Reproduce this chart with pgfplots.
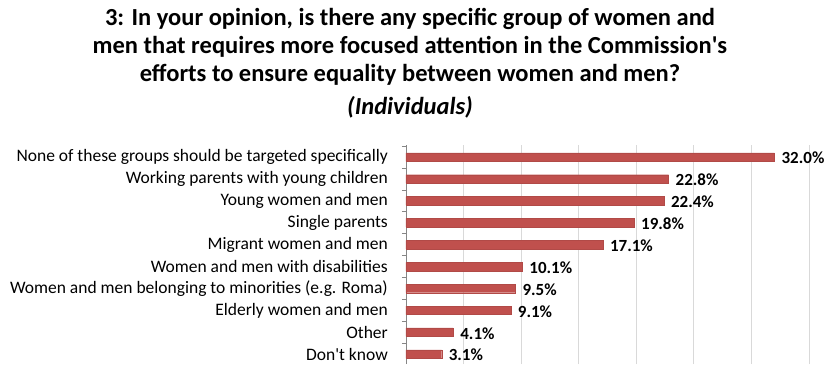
\documentclass[border=0pt]{standalone}
\usepackage{pgfplots}
\pgfplotsset{compat=1.18}
\usepackage{fontspec}
\setmainfont{Carlito}
\definecolor{barred}{RGB}{192,80,77}
\definecolor{gridgray}{RGB}{217,217,217}
\definecolor{axgray}{RGB}{134,134,134}
\begin{document}
\begin{tikzpicture}
\useasboundingbox (-406pt,0pt) rectangle (421pt,364pt);
\begin{axis}[
  at={(0pt,0pt)}, anchor=south west,
  scale only axis, width=403pt, height=219pt,
  xbar, bar width=8.5pt,
  xmin=0, xmax=35,
  ymin=-0.45, ymax=9.55,
  /pgf/number format/assume math mode=true,
  axis x line*=bottom, axis y line*=left,
  x axis line style={draw=none},
  y axis line style={draw=axgray, line width=0.8pt},
  xtick={5,10,15,20,25,30,35}, xticklabels={},
  xmajorgrids, major grid style={gridgray, line width=0.8pt},
  x tick style={draw=none},
  ytick={0,...,9},
  yticklabels={Don\textquotesingle t know, Other, Elderly women and men, Women and men belonging to minorities (e.g. Roma), Women and men with disabilities, Migrant women and men, Single parents, Young women and men, Working parents with young children, None of these groups should be targeted specifically},
  y tick style={draw=none}, major tick length=0pt,
  minor ytick={-0.5,0.5,...,9.5},
  minor tick length=4pt,
  minor y tick style={draw=axgray, line width=0.6pt},
  tick align=outside,
  yticklabel style={font=\fontsize{17.5}{20}\selectfont, inner sep=0pt, xshift=-18pt, anchor=east},
  point meta=x,
  nodes near coords={\pgfmathprintnumber[fixed,precision=1,fixed zerofill]{\pgfplotspointmeta}\%},
  nodes near coords style={font=\fontsize{17}{20}\selectfont\bfseries, anchor=west, inner sep=0pt, xshift=7pt, yshift=-1pt},
  clip=false,
]
\addplot[fill=barred, draw=barred!92!black, line width=0.3pt] coordinates {
(3.1,0) (4.1,1) (9.1,2) (9.5,3) (10.1,4) (17.1,5) (19.8,6) (22.4,7) (22.8,8) (32.0,9)
};
\end{axis}
\begin{scope}[font=\fontsize{24.5}{28}\selectfont\bfseries]
\node[anchor=base] at (4pt,338pt) {3: In your opinion, is there any specific group of women and};
\node[anchor=base] at (4pt,310pt) {men that requires more focused attention in the Commission\textquotesingle s};
\node[anchor=base] at (4pt,282pt) {efforts to ensure equality between women and men?};
\node[anchor=base] at (4pt,249pt) {\itshape (Individuals)};
\end{scope}
\end{tikzpicture}
\end{document}
